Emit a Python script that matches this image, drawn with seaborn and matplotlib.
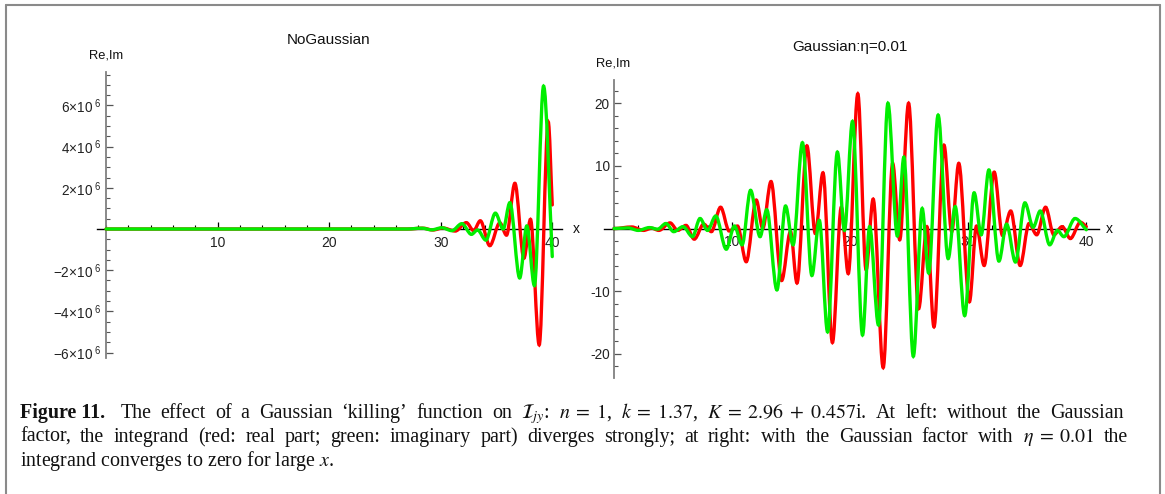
import matplotlib
matplotlib.use("Agg")
import matplotlib.pyplot as plt
from matplotlib.path import Path
from matplotlib.patches import PathPatch
from matplotlib.lines import Line2D
from matplotlib.ticker import MultipleLocator, FixedLocator, FixedFormatter
import seaborn as sns

# ---------------- data ----------------
x_major_ticks = [10, 20, 30, 40]

left_ytick_vals = [-6, -4, -2, 2, 4, 6]            # units of 10^6
left_ytick_labels = [r"$\mathregular{-6×10^{\ 6}}$", r"$\mathregular{-4×10^{\ 6}}$",
                     r"$\mathregular{-2×10^{\ 6}}$", r"$\mathregular{2×10^{\ 6}}$",
                     r"$\mathregular{4×10^{\ 6}}$", r"$\mathregular{6×10^{\ 6}}$"]
right_ytick_vals = [-20, -10, 10, 20]
right_ytick_labels = ["-20", "-10", "10", "20"]

# Left panel (no Gaussian): local extrema, value in units of 10^6
left_re_x = [0, 27.0, 28.4, 29.3, 30.2, 31.3, 32.3, 32.95, 33.55, 34.4, 35.3, 35.9,
             36.65, 37.46, 38.05, 38.83, 39.64, 40.0]
left_re_y = [0, 0, 0.04, -0.05, 0.05, -0.1, 0.31, -0.08, 0.4, -0.81, 0.3, -0.3,
             2.22, -1.42, 0.47, -5.63, 5.2, 1.17]
left_im_x = [0, 27.0, 28.3, 29.2, 30.1, 31.0, 31.9, 32.75, 33.3, 34.05, 34.9, 35.6,
             36.2, 37.08, 37.72, 38.4, 39.22, 40.0]
left_im_y = [0, 0, 0.04, -0.04, 0.06, -0.08, 0.26, -0.26, -0.05, -0.54, 0.77, 0.0,
             1.28, -2.38, 0.15, -2.75, 6.94, -1.34]

# Right panel (Gaussian, eta = 0.01): local extrema
right_re_x = [0, 1.5, 2.5, 3.2, 3.8, 4.75, 5.4, 6.1, 6.8, 7.6, 8.25, 9.03, 9.76, 10.46,
              11.2, 12.05, 12.6, 13.3, 14.2, 14.95, 15.5, 16.34, 17.05, 17.7, 18.5,
              19.25, 19.84, 20.65, 21.35, 21.95, 22.8, 23.6, 24.2, 24.95, 25.8, 26.5,
              27.1, 27.95, 28.6, 29.2, 30.1, 30.7, 31.35, 32.2, 32.9, 33.6, 34.4,
              35.15, 35.8, 36.55, 37.25, 37.95, 38.65, 39.5, 40.0]
right_re_y = [0, 0.25, -0.3, 0.05, -0.3, 0.9, -0.3, 0.5, -1.7, 0.7, -0.5, 3.4, -0.4, 0.4,
              -5.3, 4.55, 0.0, 7.5, -8.3, -0.5, -8.7, 13.2, -0.8, 8.9, -18.2,
              3.4, -7.2, 21.5, -6.6, 4.7, -22.2, 10.4, -1.8, 20.0, -12.8, 0.3,
              -15.7, 13.3, -0.5, 10.4, -11.7, 0.4, -5.9, 9.0, -1.1, 2.8, -5.9,
              0.8, -1.0, 3.4, -1.0, 0.3, -1.6, 1.0, 0.3]
right_im_x = [0, 1.2, 2.05, 3.0, 3.7, 4.4, 5.06, 5.85, 6.65, 7.29, 7.92, 8.62, 9.51,
              10.2, 10.85, 11.57, 12.37, 12.94, 13.8, 14.53, 15.17, 15.96, 16.76,
              17.39, 18.09, 18.92, 19.52, 20.2, 21.05, 21.65, 22.4, 23.2, 24.0, 24.55,
              25.35, 26.1, 26.65, 27.45, 28.3, 28.9, 29.7, 30.5, 31.1, 31.75, 32.6,
              33.25, 34.0, 34.8, 35.5, 36.1, 36.9, 37.55, 38.1, 39.05, 40.0]
right_im_y = [0, 0.1, -0.3, 0.15, -0.1, 0.8, -0.5, 0.3, -1.3, 1.6, -0.3, 2.0, -3.3,
              0.4, -2.6, 6.1, -1.3, 3.0, -9.8, 3.6, -2.6, 13.7, -7.5,
              1.3, -16.5, 12.2, -0.3, 17.1, -17.0, 0.3, -15.4, 20.0, -1.2, 11.4,
              -20.4, 3.2, -7.1, 18.1, -4.8, 3.5, -13.9, 5.7, -1.0, 9.35, -5.2,
              0.7, -5.35, 4.1, 0.2, 2.8, -2.6, -0.3, -1.3, 1.6, -0.2]

titles = ["NoGaussian", "Gaussian:η=0.01"]
caption_words1 = ["The", "effect", "of", "a", "Gaussian", "‘killing’", "function", "on",
                  r"$\mathcal{I}_{jy}$:", r"$n\;=\;1$,", r"$k\;=\;1.37$,",
                  r"$K\;=\;2.96\;+\;0.457$i.", "At", "left:", "without", "the", "Gaussian"]
caption_words2 = ["factor,", "the", "integrand", "(red:", "real", "part;", "green:",
                  "imaginary", "part)", "diverges", "strongly;", "at", "right:", "with",
                  "the", "Gaussian", "factor", "with", r"$\eta\;=\;0.01$", "the"]
caption_line3 = r"integrand converges to zero for large $x$."

RED = "#ff0000"
GREEN = "#00ee00"

# ---------------- style ----------------
sns.set_theme(style="white")
plt.rcParams["font.family"] = ["Liberation Sans", "DejaVu Sans"]

W, H = 1165, 494
fig = plt.figure(figsize=(W / 100, H / 100), dpi=100)
fig.patch.set_facecolor("white")


def fx(px):
    return px / W


def fy(py):
    return 1 - py / H


def smooth_path(xs, ys):
    """Smooth curve through the read extrema (horizontal tangent at extrema)."""
    verts = [(xs[0], ys[0])]
    codes = [Path.MOVETO]
    n = len(xs)
    for i in range(n - 1):
        x0, y0, x1, y1 = xs[i], ys[i], xs[i + 1], ys[i + 1]
        dx = x1 - x0
        c1 = (x0 + dx / 3, y0)
        if i == n - 2:
            c2 = (x1 - dx / 3, y1 + (y0 - y1) / 3)
        else:
            c2 = (x1 - dx / 3, y1)
        verts += [c1, c2, (x1, y1)]
        codes += [Path.CURVE4] * 3
    return Path(verts, codes)


def style_axes(ax, xlim, ylim, yvals, ylabels, yminor):
    ax.set_xlim(*xlim)
    ax.set_ylim(*ylim)
    ax.set_facecolor("none")
    ax.grid(False)
    for s in ["top", "right"]:
        ax.spines[s].set_visible(False)
    ax.spines["left"].set_position(("data", 0))
    ax.spines["bottom"].set_position(("data", 0))
    ax.spines["left"].set_color("#808080")
    ax.spines["left"].set_linewidth(1.3)
    ax.spines["bottom"].set_color("black")
    ax.spines["bottom"].set_linewidth(1.0)
    ax.xaxis.set_major_locator(FixedLocator(x_major_ticks))
    ax.xaxis.set_major_formatter(FixedFormatter([str(t) for t in x_major_ticks]))
    ax.xaxis.set_minor_locator(MultipleLocator(2))
    ax.yaxis.set_major_locator(FixedLocator(yvals))
    ax.yaxis.set_major_formatter(FixedFormatter(ylabels))
    ax.yaxis.set_minor_locator(MultipleLocator(yminor))
    ax.tick_params(axis="x", which="major", direction="in", length=5, width=0.9,
                   color="black", labelsize=10, pad=5, labelcolor="#222222",
                   bottom=True)
    ax.tick_params(axis="x", which="minor", direction="in", length=3, width=0.8,
                   color="black", bottom=True)
    ax.tick_params(axis="y", which="major", direction="in", length=5, width=0.9,
                   color="#555555", labelsize=9.8, pad=3, labelcolor="#222222",
                   left=True)
    ax.tick_params(axis="y", which="minor", direction="in", length=3, width=0.8,
                   color="#555555", left=True)


# ---------------- left panel ----------------
axL = fig.add_axes([fx(96.9), fy(358.3), fx(562.3) - fx(96.9), fy(71.7) - fy(358.3)])
style_axes(axL, (-0.82, 40.9), (-6.28, 7.64), left_ytick_vals, left_ytick_labels, 0.5)
axL.add_patch(PathPatch(smooth_path(left_re_x, left_re_y), facecolor="none",
                        edgecolor=RED, lw=2.4, zorder=3, capstyle="round"))
axL.add_patch(PathPatch(smooth_path(left_im_x, left_im_y), facecolor="none",
                        edgecolor=GREEN, lw=2.4, zorder=4, capstyle="round"))

# ---------------- right panel ----------------
axR = fig.add_axes([fx(604.4), fy(378.3), fx(1099.3) - fx(604.4), fy(80) - fy(378.3)])
style_axes(axR, (-0.81, 41.1), (-23.9, 23.7), right_ytick_vals, right_ytick_labels, 2)
axR.add_patch(PathPatch(smooth_path(right_re_x, right_re_y), facecolor="none",
                        edgecolor=RED, lw=2.4, zorder=3, capstyle="round"))
axR.add_patch(PathPatch(smooth_path(right_im_x, right_im_y), facecolor="none",
                        edgecolor=GREEN, lw=2.4, zorder=4, capstyle="round"))

# ---------------- labels ----------------
fig.text(fx(329), fy(39.5), titles[0], ha="center", va="center", fontsize=11, color="#111111")
fig.text(fx(850), fy(47.5), titles[1], ha="center", va="center", fontsize=11, color="#111111")
fig.text(fx(106), fy(56), "Re,Im", ha="center", va="center", fontsize=9.3, color="#111111")
fig.text(fx(613), fy(63.5), "Re,Im", ha="center", va="center", fontsize=9.3, color="#111111")
fig.text(fx(576), fy(229), "x", ha="center", va="center", fontsize=10, color="#111111")
fig.text(fx(1109), fy(229), "x", ha="center", va="center", fontsize=10, color="#111111")

# ---------------- frame ----------------
frame_kw = dict(transform=fig.transFigure, color="#8a8a8a", lw=1.5)
fig.add_artist(Line2D([fx(6), fx(6)], [0, fy(5)], **frame_kw))
fig.add_artist(Line2D([fx(6), fx(1160)], [fy(5), fy(5)], **frame_kw))
fig.add_artist(Line2D([fx(1160), fx(1160)], [fy(5), 0], **frame_kw))

# ---------------- caption (justified lines) ----------------
cap_kw = dict(fontsize=14.4, family=["Liberation Serif", "DejaVu Serif"], color="#111111",
              va="baseline", ha="left", math_fontfamily="stix")
renderer = fig.canvas.get_renderer()


def justified(items, y_px, x0_px, x1_px, extra_after_first=0.0):
    texts = []
    for word, bold in items:
        t = fig.text(0, fy(y_px), word, fontweight="bold" if bold else "normal", **cap_kw)
        texts.append(t)
    widths = [t.get_window_extent(renderer).width for t in texts]
    gap = (x1_px - x0_px - sum(widths) - extra_after_first) / (len(texts) - 1)
    x = x0_px
    for i, (t, w) in enumerate(zip(texts, widths)):
        t.set_x(fx(x))
        x += w + gap + (extra_after_first if i == 0 else 0)


line1_items = [("Figure 11.", True)] + [(w, False) for w in caption_words1]
justified(line1_items, 418, 20, 1124, extra_after_first=6)
justified([(w, False) for w in caption_words2], 442, 20, 1128)
fig.text(fx(20), fy(466), caption_line3, **cap_kw)

fig.savefig("out.png", dpi=100, facecolor="white")
